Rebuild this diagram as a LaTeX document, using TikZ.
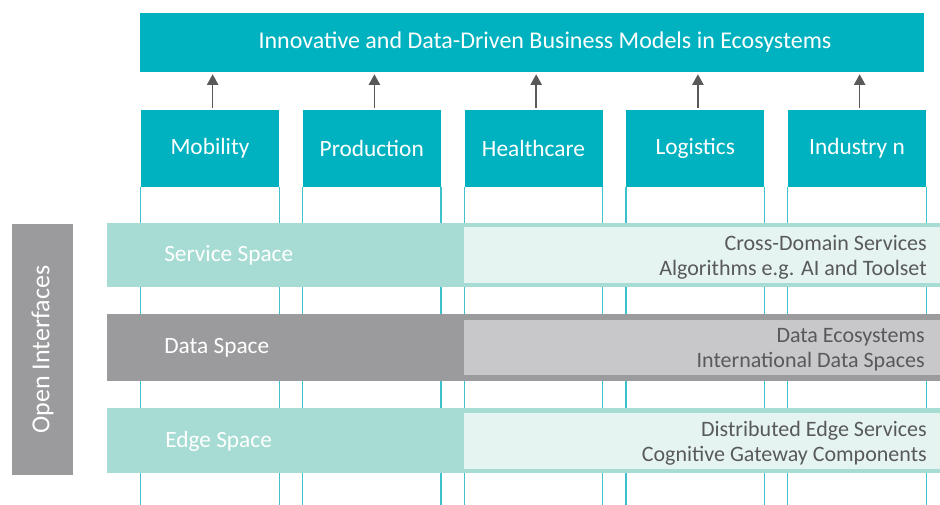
\documentclass[tikz,border=0pt]{standalone}
\usepackage{fontspec}
\setmainfont{Carlito}
\usetikzlibrary{arrows.meta}
\usetikzlibrary{positioning}
\definecolor{cyanbox}{HTML}{00B2C0}
\definecolor{cyanline}{HTML}{3DC1CD}
\definecolor{mintband}{HTML}{A6DCD3}
\definecolor{mintlight}{HTML}{E6F4F1}
\definecolor{greyband}{HTML}{9B9B9D}
\definecolor{greylight}{HTML}{C8C8CA}
\definecolor{darktext}{HTML}{58595B}
\definecolor{arrowgrey}{HTML}{595959}

\begin{document}
\begin{tikzpicture}[x=0.75pt,y=0.75pt,yscale=-1,xscale=1,
	header/.style={fill=cyanbox, text=white, inner sep=0pt, minimum width=103.5pt, minimum height=57.75pt, font=\fontsize{17.5}{20}\selectfont},
	colline/.style={draw=cyanline, line width=0.9pt},
	uparrow/.style={draw=arrowgrey, line width=1.1pt, -{Triangle[length=8pt,width=8.5pt]}, shorten <=1.5pt, shorten >=1.5pt},
	spacelabel/.style={text=white, anchor=west, inner sep=0pt, font=\fontsize{17.5}{20}\selectfont},
	detail/.style={text=darktext, anchor=east, align=right, inner sep=0pt, font=\fontsize{16.5}{18.75}\selectfont}]
	\useasboundingbox (0,0) rectangle (940,504);
	
	%Shape: Rectangle [id:top]
	\node[fill=cyanbox, text=white, inner sep=0pt, minimum width=588pt, minimum height=44.25pt, font=\fontsize{18}{21}\selectfont] (business) at (532,42.5) {\hspace*{19.5pt}Innovative and Data-Driven Business Models in Ecosystems};
	
	%Columns
	\foreach \name/\label [count=\i from 0] in {mobility/Mobility, production/Production, healthcare/Healthcare, logistics/Logistics, industry/Industry n}{
		\node[header] (\name) at ({210+161.75*\i},148.5) {\label};
		\draw[colline] (\name.south west) -- ++(0,320);
		\draw[colline] (\name.south east) -- ++(0,320);
		\draw[uparrow] ([xshift=2pt]\name.north) -- ([xshift=2pt]\name.north |- business.south);
	}
	
	%Shape: Rectangle [id:service]
	\fill[mintband] (107,223) rectangle (945,287);
	\fill[mintlight] (464,227) rectangle (945,283);
	\node[spacelabel] (servicespace) at (164,255) {Service Space};
	\node[detail] (servicedetail) at (927,257) {Cross-Domain Services\\Algorithms e.g. AI and Toolset};
	
	%Shape: Rectangle [id:data]
	\fill[greyband] (107,314) rectangle (945,381);
	\fill[greylight] (464,320) rectangle (945,375);
	\node[spacelabel] (dataspace) at (164,348) {Data Space};
	\node[detail] (datadetail) at (925,349.5) {Data Ecosystems\\International Data Spaces};
	
	%Shape: Rectangle [id:edge]
	\fill[mintband] (107,408) rectangle (945,473);
	\fill[mintlight] (464,413) rectangle (945,469);
	\node[spacelabel] (edgespace) at (165,441) {Edge Space};
	\node[detail] (edgedetail) at (927,443) {Distributed Edge Services\\Cognitive Gateway Components};
	
	%Shape: Rectangle [id:interfaces]
	\node[fill=greyband, text=white, rotate=90, inner sep=0pt, minimum width=188.25pt, minimum height=45.75pt, font=\fontsize{19.5}{22}\selectfont] (interfaces) at (42.5,349.5) {Open Interfaces};
	
\end{tikzpicture}
\end{document}
